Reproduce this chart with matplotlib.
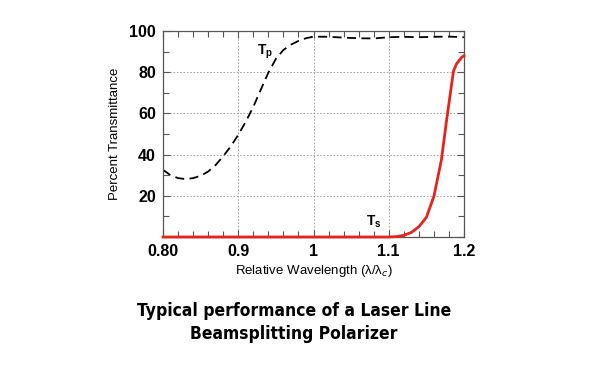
import numpy as np
import matplotlib.pyplot as plt
from matplotlib.ticker import MultipleLocator

# Tp (dashed) - p-polarized transmittance
tp_x = [0.80, 0.81, 0.82, 0.83, 0.84, 0.85, 0.86, 0.87, 0.88, 0.89, 0.90, 0.91, 0.92,
        0.93, 0.94, 0.95, 0.96, 0.97, 0.98, 0.99, 1.00, 1.02, 1.04, 1.06, 1.08,
        1.10, 1.12, 1.14, 1.16, 1.18, 1.20]
tp_y = [32.6, 30.0, 28.6, 28.1, 28.6, 29.7, 31.8, 35.0, 39.2, 44.0, 49.6, 56.0, 63.2,
        71.6, 79.8, 86.5, 90.8, 93.4, 95.2, 96.5, 97.3, 97.2, 96.8, 96.5, 96.4,
        97.0, 97.2, 97.0, 97.2, 97.3, 97.0]

# Ts (red) - s-polarized transmittance
ts_x = [0.80, 0.90, 1.00, 1.10, 1.11, 1.12, 1.13, 1.14, 1.15, 1.16, 1.17,
        1.177, 1.186, 1.19, 1.197, 1.20]
ts_y = [0.0, 0.0, 0.0, 0.0, 0.2, 0.8, 2.2, 5.0, 9.5, 19.7, 37.5,
        57.0, 80.5, 84.0, 87.3, 88.0]

xticks = [0.80, 0.9, 1.0, 1.1, 1.2]
xticklabels = ["0.80", "0.9", "1", "1.1", "1.2"]
yticks = [20, 40, 60, 80, 100]

fig = plt.figure(figsize=(6, 3.74), dpi=100)
ax = fig.add_axes([0.2717, 0.3663, 0.5016, 0.5507])

ax.plot(tp_x, tp_y, color="black", lw=1.3, ls=(0, (5, 3)))
ax.plot(ts_x, ts_y, color="#e8231c", lw=2.0, clip_on=False, zorder=3)

ax.set_xlim(0.8, 1.2)
ax.set_ylim(0, 100)
ax.set_xticks(xticks)
ax.set_xticklabels(xticklabels)
ax.set_yticks(yticks)
ax.xaxis.set_minor_locator(MultipleLocator(0.02))
ax.yaxis.set_minor_locator(MultipleLocator(10))
ax.tick_params(which="both", direction="in", top=True, right=True, color="#555555")
ax.tick_params(which="major", length=5, width=0.8, pad=5)
ax.tick_params(which="minor", length=4, width=0.8)
for lab in ax.get_xticklabels() + ax.get_yticklabels():
    lab.set_fontsize(11.5)
    lab.set_fontweight("bold")
    lab.set_family("Liberation Sans")
ax.grid(True, which="major", ls=(0, (2, 2)), color="#999999", lw=0.6)
for s in ax.spines.values():
    s.set_color("#555555")
    s.set_linewidth(0.9)

ax.set_xlabel("Relative Wavelength (\u03bb/\u03bb$_c$)", fontsize=9.5, family="Liberation Sans", labelpad=3)
ax.set_ylabel("Percent Transmittance", fontsize=9.5, family="Liberation Sans", labelpad=6)

ax.text(0.936, 90, "T$_\\mathregular{p}$", fontsize=10, fontweight="bold",
        family="Liberation Sans", ha="center", va="center")
ax.text(1.08, 7.5, "T$_\\mathregular{s}$", fontsize=10, fontweight="bold",
        family="Liberation Sans", ha="center", va="center")

fig.text(0.49, 0.138, "Typical performance of a Laser Line\nBeamsplitting Polarizer",
         ha="center", va="center", fontsize=12.5, fontweight="bold",
         family="DejaVu Sans", fontstretch="condensed", linespacing=1.4)

fig.savefig("out.png", dpi=100)
